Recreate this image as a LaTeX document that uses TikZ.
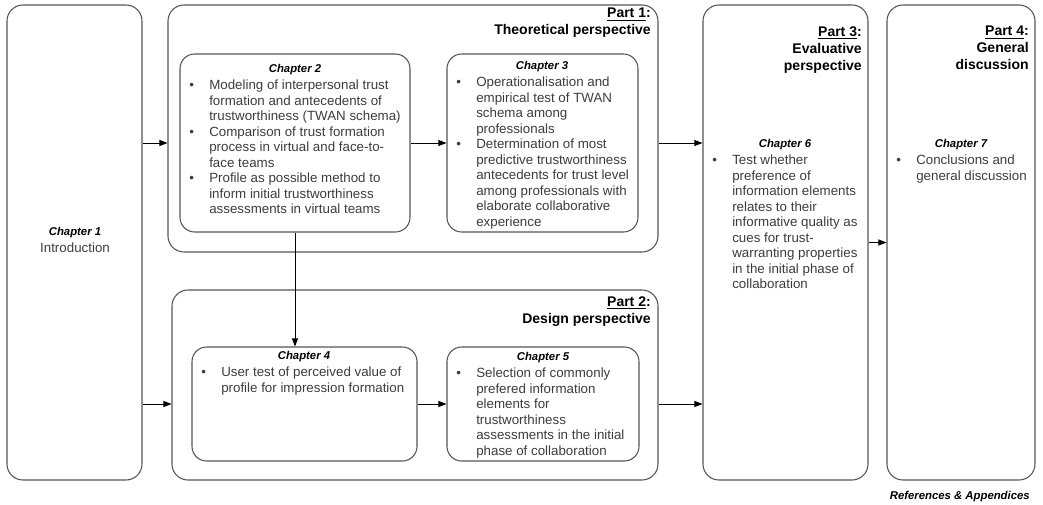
\documentclass[tikz,border=0pt]{standalone}
\usepackage{fontspec}
\setmainfont{Liberation Sans}
\usetikzlibrary{arrows.meta,positioning,fit}
\definecolor{boxline}{HTML}{555555}
\definecolor{bodygray}{HTML}{3C3C3C}
\newcommand{\bul}{\makebox[15pt][l]{\textbullet}}
\newcommand{\ind}{\hspace*{15pt}}
\begin{document}
\begin{tikzpicture}[x=0.75pt,y=-0.75pt,
    partbox/.style={draw=boxline, line width=0.8pt, rounded corners=12pt, inner sep=0pt},
    chapbox/.style={draw=boxline, line width=0.8pt, rounded corners=11pt, inner sep=0pt},
    chaptitle/.style={font=\fontsize{8.5}{10}\selectfont\bfseries\itshape, inner sep=0pt},
    bodytext/.style={font=\fontsize{10}{11.6}\selectfont, text=bodygray, align=left, inner sep=0pt, anchor=north west},
    parttitle/.style={font=\fontsize{10.5}{12.75}\selectfont\bfseries, align=right, inner sep=0pt, anchor=north east},
    link/.style={-{Triangle[length=6pt,width=4.5pt]}, line width=0.7pt}]

    \useasboundingbox (0,0) rectangle (1043,504);

    % Outer boxes (parts)
    \node[partbox, fit={(7,5) (142,480)}] (ch1) {};
    \node[partbox, fit={(168,5) (658,252)}] (part1) {};
    \node[partbox, fit={(172,290) (658,480)}] (part2) {};
    \node[partbox, fit={(703,5) (868,480)}] (part3) {};
    \node[partbox, fit={(887,5) (1035,480)}] (part4) {};

    % Inner boxes (chapters)
    \node[chapbox, fit={(180,54) (410,232)}] (ch2) {};
    \node[chapbox, fit={(447,54) (638,232)}] (ch3) {};
    \node[chapbox, fit={(192,347) (417,461)}] (ch4) {};
    \node[chapbox, fit={(447,347) (639,461)}] (ch5) {};

    % Part labels
    \node[parttitle] (p1t) at (651,8) {\underline{Part 1}:\\ Theoretical perspective};
    \node[parttitle] (p2t) at (651,296) {\underline{Part 2}:\\ Design perspective};
    \node[parttitle] (p3t) at (862,26) {\underline{Part 3}:\\ Evaluative\\ perspective};
    \node[parttitle] (p4t) at (1029,26) {\underline{Part 4}:\\ General\\ discussion};

    % Chapter 1
    \node[chaptitle] (ch1t) at (75,233) {Chapter 1};
    \node[font=\fontsize{10}{11.6}\selectfont, text=bodygray, inner sep=0pt] (ch1b) at (75,248) {Introduction};

    % Chapter 2
    \node[chaptitle] (ch2t) at (295,70) {Chapter 2};
    \node[bodytext] (ch2b) at (189,80) {\bul Modeling of interpersonal trust\\
        \ind formation and antecedents of\\
        \ind trustworthiness (TWAN schema)\\
        \bul Comparison of trust formation\\
        \ind process in virtual and face-to-\\
        \ind face teams\\
        \bul Profile as possible method to\\
        \ind inform initial trustworthiness\\
        \ind assessments in virtual teams};

    % Chapter 3
    \node[chaptitle] (ch3t) at (542,67) {Chapter 3};
    \node[bodytext] (ch3b) at (456,77) {\bul Operationalisation and\\
        \ind empirical test of TWAN\\
        \ind schema among\\
        \ind professionals\\
        \bul Determination of most\\
        \ind predictive trustworthiness\\
        \ind antecedents for trust level\\
        \ind among professionals with\\
        \ind elaborate collaborative\\
        \ind experience};

    % Chapter 4
    \node[chaptitle] (ch4t) at (304,357) {Chapter 4};
    \node[bodytext] (ch4b) at (201,367) {\bul User test of perceived value of\\
        \ind profile for impression formation};

    % Chapter 5
    \node[chaptitle] (ch5t) at (543,358) {Chapter 5};
    \node[bodytext] (ch5b) at (456,368) {\bul Selection of commonly\\
        \ind prefered information\\
        \ind elements for\\
        \ind trustworthiness\\
        \ind assessments in the initial\\
        \ind phase of collaboration};

    % Chapter 6
    \node[chaptitle] (ch6t) at (785,145) {Chapter 6};
    \node[bodytext] (ch6b) at (712,155) {\bul Test whether\\
        \ind preference of\\
        \ind information elements\\
        \ind relates to their\\
        \ind informative quality as\\
        \ind cues for trust-\\
        \ind warranting properties\\
        \ind in the initial phase of\\
        \ind collaboration};

    % Chapter 7
    \node[chaptitle] (ch7t) at (961,145) {Chapter 7};
    \node[bodytext] (ch7b) at (896,155) {\bul Conclusions and\\
        \ind general discussion};

    \node[chaptitle, anchor=east] (refs) at (1030,497) {References \& Appendices};

    % Arrows
    \draw[link] (ch1.east |- ch2.east) -- (part1.west |- ch2.east);
    \draw[link] (ch2.east) -- (ch3.west |- ch2.east);
    \draw[link] (part1.east |- ch3.east) -- (part3.west |- ch3.east);
    \draw[link] (ch2.south) -- (ch2.south |- ch4.north);
    \draw[link] (ch1.east |- ch4.west) -- (part2.west |- ch4.west);
    \draw[link] (ch4.east) -- (ch5.west |- ch4.east);
    \draw[link] (part2.east |- ch5.east) -- (part3.west |- ch5.east);
    \draw[link] (part3.east) -- (part4.west);

\end{tikzpicture}
\end{document}
